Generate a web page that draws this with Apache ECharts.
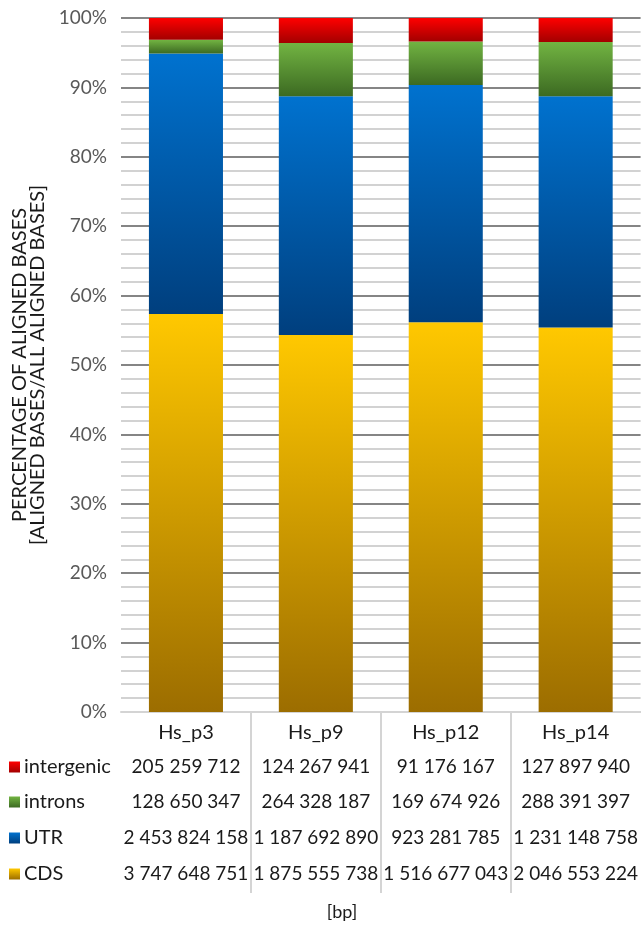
<!DOCTYPE html>
<html>
<head>
<meta charset="utf-8">
<script src="https://cdn.jsdelivr.net/npm/echarts@6/dist/echarts.min.js"></script>
<style>
  html, body { margin: 0; padding: 0; background: #fff; }
  #chart { width: 641px; height: 937px; }
</style>
</head>
<body>
<div id="chart"></div>
<script>
// Aligned bases per sample, in base pairs
const categories = ['Hs_p3', 'Hs_p9', 'Hs_p12', 'Hs_p14'];
const intergenic = [205259712, 124267941, 91176167, 127897940];
const introns = [128650347, 264328187, 169674926, 288391397];
const utr = [2453824158, 1187692890, 923281785, 1231148758];
const cds = [3747648751, 1875555738, 1516677043, 2046553224];

const seriesNames = ['intergenic', 'introns', 'UTR', 'CDS'];
const seriesValues = [intergenic, introns, utr, cds];

const FONT = 'Lato, "Open Sans", sans-serif';
const GRID = { left: 121, right: 0, top: 18, bottom: 225 };

// top / bottom colours of each segment's gradient
const palette = {
  intergenic: ['#FF0000', '#A30000'],
  introns: ['#72B442', '#3C6A22'],
  UTR: ['#0072CF', '#003F7E'],
  CDS: ['#FFC800', '#9C6D00']
};
const grad = (name) => new echarts.graphic.LinearGradient(0, 0, 0, 1, [
  { offset: 0, color: palette[name][0] },
  { offset: 1, color: palette[name][1] }
]);

const totals = categories.map((_, i) => seriesValues.reduce((s, arr) => s + arr[i], 0));
const pct = (arr) => arr.map((v, i) => v / totals[i] * 100);
const fmt = (n) => String(n).replace(/\B(?=(\d{3})+(?!\d))/g, ' ');

// table rows under the plot: label-centre distance from the 0% line
const rowOffsets = { header: 21, intergenic: 55, introns: 90, UTR: 126, CDS: 162 };

const tableAxis = (data, margin, extra, size) => Object.assign({
  type: 'category',
  gridIndex: 0,
  position: 'bottom',
  data: data,
  axisLine: { show: false },
  axisTick: { show: false },
  splitLine: { show: false },
  axisLabel: {
    interval: 0, margin: margin, verticalAlign: 'middle',
    fontFamily: FONT, fontSize: size || 19, color: '#1a1a1a'
  }
}, extra || {});

const chart = echarts.init(document.getElementById('chart'), null, { renderer: 'canvas' });

const option = {
  animation: false,
  backgroundColor: '#ffffff',
  grid: GRID,
  yAxis: {
    type: 'value',
    min: 0, max: 100, interval: 10,
    name: 'PERCENTAGE OF ALIGNED BASES\n[ALIGNED BASES/ALL ALIGNED BASES]',
    nameLocation: 'middle',
    nameGap: 60,
    nameTextStyle: { fontFamily: FONT, fontSize: 20, lineHeight: 18, color: '#1a1a1a' },
    axisLine: { show: false },
    axisTick: { show: false },
    axisLabel: { formatter: '{value}%', margin: 14, fontFamily: FONT, fontSize: 19, color: '#595959' },
    splitLine: { show: true, lineStyle: { color: '#858585', width: 2 } },
    minorTick: { show: false, splitNumber: 5 },
    minorSplitLine: { show: true, lineStyle: { color: '#D2D2D2', width: 2 } }
  },
  xAxis: [
    tableAxis(categories, rowOffsets.header, {
      axisLine: { show: true, lineStyle: { color: '#D4D4D4', width: 2 } }
    }, 20),
    tableAxis(intergenic.map(fmt), rowOffsets.intergenic),
    tableAxis(introns.map(fmt), rowOffsets.introns),
    tableAxis(utr.map(fmt), rowOffsets.UTR),
    tableAxis(cds.map(fmt), rowOffsets.CDS)
  ],
  series: ['CDS', 'UTR', 'introns', 'intergenic'].map((name) => ({
    name: name,
    type: 'bar',
    stack: 'total',
    xAxisIndex: 0,
    barWidth: '57%',
    data: pct(seriesValues[seriesNames.indexOf(name)]),
    itemStyle: { color: grad(name) }
  }))
};

chart.setOption(option);

// table rules between categories and row keys, placed from the axis scale
const xAt = (i) => chart.convertToPixel({ xAxisIndex: 0 }, i);
const band = xAt(1) - xAt(0);
const zeroY = chart.convertToPixel({ yAxisIndex: 0 }, 0);
const graphics = [];
for (let i = 1; i < categories.length; i++) {
  const x = Math.round(xAt(i) - band / 2);
  graphics.push({
    type: 'line',
    shape: { x1: x, y1: zeroY, x2: x, y2: zeroY + 181 },
    style: { stroke: '#D4D4D4', lineWidth: 2 },
    silent: true
  });
}
seriesNames.forEach((name) => {
  const cy = zeroY + rowOffsets[name];
  graphics.push({
    type: 'rect',
    shape: { x: 9, y: cy - 5.5, width: 11, height: 11 },
    style: { fill: grad(name) },
    silent: true
  });
  graphics.push({
    type: 'text',
    x: 24, y: cy,
    style: {
      text: name, fontFamily: FONT, fontSize: 20, fill: '#1a1a1a',
      textAlign: 'left', textVerticalAlign: 'middle'
    },
    silent: true
  });
});
graphics.push({
  type: 'text',
  x: 342, y: 912,
  style: {
    text: '[bp]', fontFamily: FONT, fontSize: 18, fill: '#1a1a1a',
    textAlign: 'center', textVerticalAlign: 'middle'
  },
  silent: true
});
chart.setOption({ graphic: graphics });
</script>
</body>
</html>
